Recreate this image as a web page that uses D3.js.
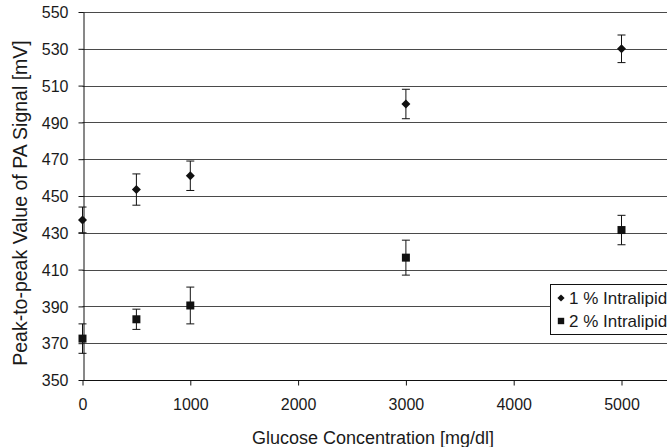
<!DOCTYPE html>
<html><head><meta charset="utf-8">
<script src="https://cdn.jsdelivr.net/npm/d3@7"></script>
<style>body{margin:0;background:#fff}svg{display:block;font-family:"Liberation Sans",Arial,sans-serif}</style>
</head><body>
<script>
const glucose = [0, 500, 1000, 3000, 5000];
const series1Name = "1 % Intralipid";
const series1 = [437, 453.5, 461, 500, 530];
const series1Err = [7, 8.5, 8, 8, 7.5];
const series2Name = "2 % Intralipid";
const series2 = [372.5, 383, 390.5, 416.5, 431.5];
const series2Err = [8, 5.5, 10, 9.5, 8];
const xTicks = [0, 1000, 2000, 3000, 4000, 5000];
const yTicks = [350, 370, 390, 410, 430, 450, 470, 490, 510, 530, 550];

const W = 667, H = 447;
const FONT = "Liberation Sans, Arial, sans-serif";
const svg = d3.select("body").append("svg").attr("width", W).attr("height", H);
const x = d3.scaleLinear().domain([0, 1000]).range([82.5, 190.3]);
const y = d3.scaleLinear().domain([350, 550]).range([380, 12]);
const xEnd = 740;

// gridlines
svg.append("g").selectAll("line").data(yTicks.filter(d => d > 350)).join("line")
  .attr("x1", x(0)).attr("x2", xEnd)
  .attr("y1", d => Math.round(y(d)) + 0.5).attr("y2", d => Math.round(y(d)) + 0.5)
  .attr("stroke", "#4a4a4a").attr("stroke-width", 1);

// axes
const yAxis = d3.axisLeft(y).tickValues(yTicks).tickFormat(d3.format("d")).tickSize(5).tickPadding(10).tickSizeOuter(0);
const gy = svg.append("g").attr("transform", `translate(${Math.round(x(0)) + 0.5},0)`).call(yAxis);
const xAxis = d3.axisBottom(x).tickValues(xTicks).tickFormat(d3.format("d")).tickSize(5).tickPadding(13).tickSizeOuter(0);
const gx = svg.append("g").attr("transform", `translate(0,${Math.round(y(350)) + 0.5})`).call(xAxis);
gx.select(".domain").attr("d", `M${x(0)},0H${xEnd}`);
[gx, gy].forEach(g => {
  g.selectAll("text").attr("font-size", 16).attr("fill", "#1a1a1a").attr("font-family", FONT);
  g.selectAll("line,path").attr("stroke", "#111");
});
gy.selectAll("text").attr("dy", "0.36em");

// titles
svg.append("text").attr("x", 373).attr("y", 444).attr("text-anchor", "middle")
  .attr("font-family", FONT).attr("font-size", 18).attr("fill", "#1a1a1a").text("Glucose Concentration [mg/dl]");
svg.append("text").attr("transform", `translate(27,${(30 + 376) / 2}) rotate(-90)`)
  .attr("text-anchor", "middle").attr("font-family", FONT).attr("font-size", 19.5).attr("fill", "#1a1a1a")
  .text("Peak-to-peak Value of PA Signal [mV]");

function drawSeries(vals, errs, shape) {
  const g = svg.append("g");
  const data = glucose.map((g0, i) => ({ x: g0, v: vals[i], e: errs[i] }));
  g.selectAll(".eb").data(data).join("line")
    .attr("x1", d => x(d.x)).attr("x2", d => x(d.x))
    .attr("y1", d => y(d.v + d.e)).attr("y2", d => y(d.v - d.e))
    .attr("stroke", "#111").attr("stroke-width", 1);
  g.selectAll(".capT").data(data).join("line")
    .attr("x1", d => x(d.x) - 4).attr("x2", d => x(d.x) + 4)
    .attr("y1", d => y(d.v + d.e)).attr("y2", d => y(d.v + d.e))
    .attr("stroke", "#111").attr("stroke-width", 1);
  g.selectAll(".capB").data(data).join("line")
    .attr("x1", d => x(d.x) - 4).attr("x2", d => x(d.x) + 4)
    .attr("y1", d => y(d.v - d.e)).attr("y2", d => y(d.v - d.e))
    .attr("stroke", "#111").attr("stroke-width", 1);
  g.selectAll(".m").data(data).join("path")
    .attr("transform", d => `translate(${x(d.x)},${y(d.v)})`)
    .attr("d", shape).attr("fill", "#111");
}
const diamond = "M0,-4.5L4.5,0L0,4.5L-4.5,0Z";
const square = "M-4,-4H4V4H-4Z";
drawSeries(series1, series1Err, diamond);
drawSeries(series2, series2Err, square);

// legend
const lg = svg.append("g");
lg.append("rect").attr("x", 550.5).attr("y", 284.5).attr("width", 140).attr("height", 50)
  .attr("fill", "#fff").attr("stroke", "#111");
const legItems = [{ n: series1Name, s: diamond, yy: 298 }, { n: series2Name, s: square, yy: 321 }];
legItems.forEach(it => {
  lg.append("path").attr("transform", `translate(561,${it.yy}) scale(0.8)`).attr("d", it.s).attr("fill", "#111");
  lg.append("text").attr("x", 569).attr("y", it.yy).attr("dy", "0.36em")
    .attr("font-family", FONT).attr("font-size", 17).attr("fill", "#1a1a1a").text(it.n);
});
</script>
</body></html>
